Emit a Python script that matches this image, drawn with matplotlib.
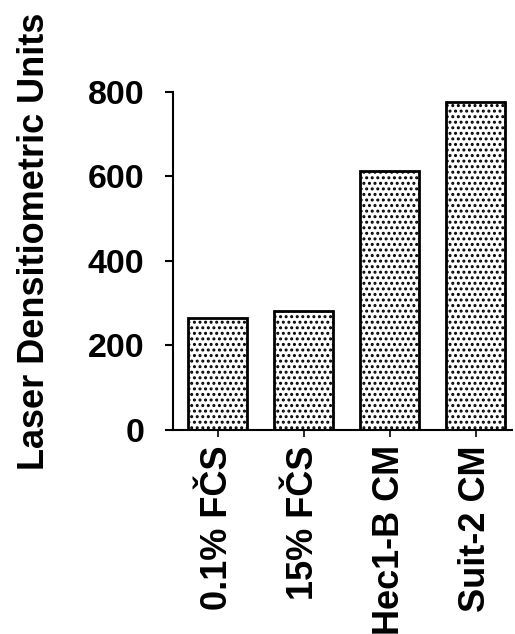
import matplotlib
matplotlib.use("Agg")
import matplotlib.pyplot as plt

categories = ["0.1% FČS", "15% FČS", "Hec1-B CM", "Suit-2 CM"]
values = [265, 282, 613, 776]
yticks = [0, 200, 400, 600, 800]
ylabel = "Laser Densitiometric Units"

plt.rcParams['font.family'] = ['Liberation Sans', 'DejaVu Sans']
plt.rcParams['hatch.linewidth'] = 1.4
plt.rcParams['hatch.color'] = '#222222'

fig = plt.figure(figsize=(5.15, 6.34), dpi=100)
ax = fig.add_axes([0.336, 0.3218, 0.994 - 0.336, 0.855 - 0.3218])

x = list(range(len(categories)))
ax.bar(x, values, width=0.686, facecolor='white', edgecolor='black',
       linewidth=2.0, hatch='...', zorder=2)

ax.set_xlim(-0.52, 3.42)
ax.set_ylim(0, 800)
ax.set_yticks(yticks)
ax.set_yticklabels([str(v) for v in yticks], fontsize=24.5, fontweight='bold')
ax.set_xticks(x)
ax.set_xticklabels(categories, rotation=90, fontsize=26, fontweight='bold', va='top')

for s in ['top', 'right']:
    ax.spines[s].set_visible(False)
for s in ['left', 'bottom']:
    ax.spines[s].set_linewidth(1.5)
    ax.spines[s].set_zorder(3)
ax.tick_params(axis='y', length=6, width=1.5, pad=14.5, direction='out')
ax.tick_params(axis='x', length=5, width=1.2, pad=6, direction='out')

fig.text(0.067, 0.620, ylabel, rotation=90, fontsize=26, fontweight='bold',
         ha='center', va='center')

fig.savefig("out.png", dpi=100)
